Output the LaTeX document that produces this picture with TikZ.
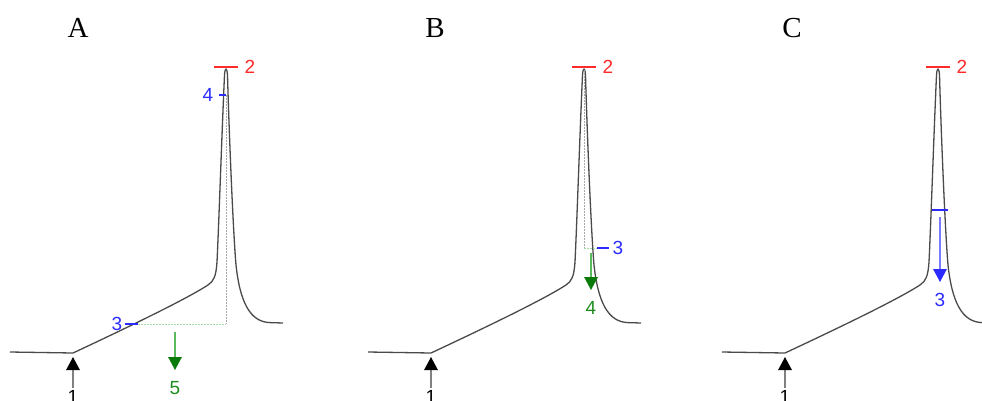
\documentclass[tikz,border=0pt]{standalone}
\usepackage{fontspec}
\newfontfamily\numfont{Liberation Sans}
\newfontfamily\titlefont{Liberation Serif}
\usetikzlibrary{arrows.meta}
\definecolor{tracecol}{HTML}{4A4A4A}
\definecolor{redc}{HTML}{FF2A2A}
\definecolor{bluec}{HTML}{2B2BFF}
\definecolor{greenc}{HTML}{1E8C1E}
\definecolor{greenhead}{HTML}{0A7A0A}
\definecolor{greenshaft}{HTML}{5CB85C}
\definecolor{greenlight}{HTML}{A6DAA6}
\definecolor{greydot}{HTML}{A8A8A8}
\definecolor{blueshaft}{HTML}{7A7AFF}
\tikzset{
  trace/.style={draw=tracecol, line width=1.3pt, line join=round},
  redmark/.style={draw=redc, line width=1.4pt},
  bluemark/.style={draw=bluec, line width=1.4pt},
  greyline/.style={draw=greydot, line width=1pt, dash pattern=on 1.5pt off 1.5pt},
  greenline/.style={draw=greenlight, line width=1pt, dash pattern=on 1.5pt off 1.5pt},
  greenarrow/.style={draw=greenshaft, line width=1.4pt, -{Triangle[width=13.5pt,length=13pt,color=greenhead]}},
  bluearrow/.style={draw=blueshaft, line width=1.4pt, -{Triangle[width=13.5pt,length=13pt,color=bluec]}},
  blackarrow/.style={draw=gray, line width=1.4pt, -{Triangle[width=13.5pt,length=13pt,color=black]}},
  numlab/.style={font=\numfont\fontsize{19}{19}\selectfont, inner sep=0pt},
  titlelab/.style={font=\titlefont\fontsize{29}{29}\selectfont, inner sep=0pt, anchor=base},
}
\newcommand{\spiketrace}{%
  \draw[trace] (10,352) -- (73,353)
    .. controls (120,331) and (185,300) .. (208,285)
    .. controls (214,281) and (216,276) .. (217,262)
    .. controls (219,220) and (222,130) .. (224.5,75)
    .. controls (225,67) and (227,67) .. (227.5,75)
    .. controls (229,130) and (233,230) .. (236,265)
    .. controls (240,302) and (250,322) .. (270,322.6)
    -- (283,323);
}
\begin{document}
\begin{tikzpicture}[x=1pt,y=-1pt]
\useasboundingbox (0,0) rectangle (982,400);
\clip (0,0) rectangle (982,400);
% ---------- Panel A ----------
\begin{scope}
  \node[titlelab] (tA) at (78,37) {A};
  \spiketrace
  \coordinate (a2l) at (214,67); \coordinate (a2r) at (238,67);
  \draw[redmark] (a2l) -- (a2r);
  \node[numlab, text=redc] (a2) at (250,67) {2};
  \coordinate (a4l) at (219,95); \coordinate (a4r) at (226,95);
  \draw[bluemark] (a4l) -- (a4r);
  \node[numlab, text=bluec] (a4) at (208,95) {4};
  \coordinate (a3l) at (125,324); \coordinate (a3r) at (138,324);
  \coordinate (acorner) at (226,324);
  \draw[greyline] (a4r) -- (acorner);
  \draw[greenline] (a3r) -- (acorner);
  \draw[bluemark] (a3l) -- (a3r);
  \node[numlab, text=bluec] (a3) at (117,324) {3};
  \coordinate (a5s) at (175,332); \coordinate (a5e) at (175,370);
  \draw[greenarrow] (a5s) -- (a5e);
  \node[numlab, text=greenc] (a5) at (175,388) {5};
  \coordinate (a1s) at (73,388); \coordinate (a1e) at (73,357);
  \draw[blackarrow] (a1s) -- (a1e);
  \node[numlab, text=black] (a1) at (73,397) {1};
\end{scope}
% ---------- Panel B ----------
\begin{scope}[xshift=358pt]
  \node[titlelab] (tB) at (77,37) {B};
  \spiketrace
  \coordinate (b2l) at (214,67); \coordinate (b2r) at (238,67);
  \draw[redmark] (b2l) -- (b2r);
  \node[numlab, text=redc] (b2) at (250,67) {2};
  \coordinate (btop) at (226,70); \coordinate (bcorner) at (226,248);
  \coordinate (b3l) at (239,248); \coordinate (b3r) at (251,248);
  \draw[greyline] (btop) -- (bcorner);
  \draw[greenline] (bcorner) -- (b3l);
  \draw[bluemark] (b3l) -- (b3r);
  \node[numlab, text=bluec] (b3) at (260,248) {3};
  \coordinate (b4s) at (233,253); \coordinate (b4e) at (233,290);
  \draw[greenarrow] (b4s) -- (b4e);
  \node[numlab, text=greenc] (b4) at (233,308) {4};
  \coordinate (b1s) at (73,388); \coordinate (b1e) at (73,357);
  \draw[blackarrow] (b1s) -- (b1e);
  \node[numlab, text=black] (b1) at (73,397) {1};
\end{scope}
% ---------- Panel C ----------
\begin{scope}[xshift=712pt]
  \node[titlelab] (tC) at (80,37) {C};
  \spiketrace
  \coordinate (c2l) at (214,67); \coordinate (c2r) at (238,67);
  \draw[redmark] (c2l) -- (c2r);
  \node[numlab, text=redc] (c2) at (250,67) {2};
  \coordinate (cwl) at (220,210); \coordinate (cwr) at (236,210);
  \draw[bluemark] (cwl) -- (cwr);
  \coordinate (c3s) at (228,217); \coordinate (c3e) at (228,282);
  \draw[bluearrow] (c3s) -- (c3e);
  \node[numlab, text=bluec] (c3) at (228,300) {3};
  \coordinate (c1s) at (73,388); \coordinate (c1e) at (73,357);
  \draw[blackarrow] (c1s) -- (c1e);
  \node[numlab, text=black] (c1) at (73,397) {1};
\end{scope}
\end{tikzpicture}
\end{document}
